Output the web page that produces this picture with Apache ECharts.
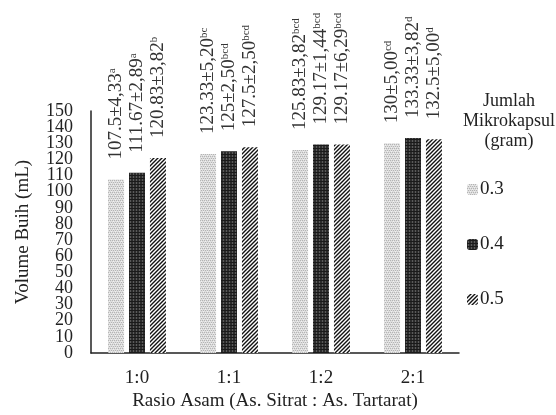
<!DOCTYPE html>
<html><head><meta charset="utf-8">
<script src="https://cdn.jsdelivr.net/npm/echarts@6/dist/echarts.min.js"></script>
<style>html,body{margin:0;padding:0;background:#fff}#c{width:556px;height:415px}</style>
</head><body><div id="c"></div>
<script>
const categories = ['1:0', '1:1', '1:2', '2:1'];
const seriesNames = ['0.3', '0.4', '0.5'];
const values03 = [107.5, 123.33, 125.83, 130];
const values04 = [111.67, 125, 129.17, 133.33];
const values05 = [120.83, 127.5, 129.17, 132.5];
const labels03 = ['107.5±4,33', '123.33±5,20', '125.83±3,82', '130±5,00'];
const labels04 = ['111.67±2,89', '125±2,50', '129.17±1,44', '133.33±3,82'];
const labels05 = ['120.83±3,82', '127.5±2,50', '129.17±6,29', '132.5±5,00'];
const sup03 = ['a', 'bc', 'bcd', 'cd'];
const sup04 = ['a', 'bcd', 'bcd', 'd'];
const sup05 = ['b', 'bcd', 'bcd', 'd'];
const yMin = 0, yMax = 150, yStep = 10;

function makePattern(kind) {
  const c = document.createElement('canvas');
  const ctx = c.getContext('2d');
  if (kind === 'dots') {
    c.width = 4; c.height = 4;
    ctx.fillStyle = '#dedede'; ctx.fillRect(0, 0, 4, 4);
    ctx.fillStyle = '#b4b4b4';
    ctx.fillRect(0, 0, 1, 1); ctx.fillRect(2, 0, 1, 1);
    ctx.fillRect(1, 2, 1, 1); ctx.fillRect(3, 2, 1, 1);
    ctx.fillStyle = '#f0f0f0'; ctx.fillRect(1, 1, 1, 1); ctx.fillRect(3, 3, 1, 1);
  } else if (kind === 'dark') {
    c.width = 3; c.height = 3;
    ctx.fillStyle = '#2c2c2c'; ctx.fillRect(0, 0, 3, 3);
    ctx.fillStyle = '#5a5a5a'; ctx.fillRect(1, 0, 1, 3);
    ctx.fillStyle = '#1a1a1a'; ctx.fillRect(0, 1, 3, 1);
  } else {
    c.width = 4; c.height = 4;
    ctx.fillStyle = '#fff'; ctx.fillRect(0, 0, 4, 4);
    ctx.strokeStyle = '#111'; ctx.lineWidth = 1.4;
    ctx.beginPath();
    ctx.moveTo(-1, 5); ctx.lineTo(5, -1);
    ctx.moveTo(-1, 1); ctx.lineTo(1, -1);
    ctx.moveTo(3, 5); ctx.lineTo(5, 3);
    ctx.stroke();
  }
  return { image: c, repeat: 'repeat' };
}
const fills = [makePattern('dots'), makePattern('dark'), makePattern('hatch')];
const FONT = '"Liberation Serif", "DejaVu Serif", serif';

function mkSeries(name, vals, labs, sups, fill) {
  return {
    name: name, type: 'bar', barWidth: 16, barGap: '31%', yAxisIndex: 0,
    itemStyle: { color: fill },
    data: vals.map((v, i) => ({
      value: v,
      label: { formatter: '{m|' + labs[i] + '}{s|' + sups[i] + '}' }
    })),
    label: {
      show: true, position: 'top', rotate: 90, align: 'left', verticalAlign: 'middle',
      distance: 20, color: '#333', fontFamily: FONT,
      rich: {
        m: { fontSize: 19, fontFamily: FONT, color: '#333', lineHeight: 19, verticalAlign: 'bottom' },
        s: { fontSize: 11, fontFamily: FONT, color: '#333', lineHeight: 19, verticalAlign: 'top' }
      }
    }
  };
}

const yLabelStyle = { fontFamily: FONT, fontSize: 18, color: '#222', margin: 18 };

const chart = echarts.init(document.getElementById('c'), null, { renderer: 'canvas' });
chart.setOption({
  animation: false,
  backgroundColor: '#fff',
  textStyle: { fontFamily: FONT },
  title: {
    text: 'Jumlah\nMikrokapsul\n(gram)', left: 504, top: 86, textAlign: 'center',
    textStyle: { fontFamily: FONT, fontSize: 18, fontWeight: 'normal', color: '#222', lineHeight: 20 }
  },
  legend: {
    orient: 'vertical', left: 462, top: 175, itemWidth: 11, itemHeight: 11, itemGap: 36,
    data: seriesNames,
    textStyle: { fontFamily: FONT, fontSize: 19, color: '#222', padding: [0, 0, 0, -3] }
  },
  grid: { left: 91, right: 97, top: 111, bottom: 62, containLabel: false, outerBoundsMode: 'none' },
  xAxis: {
    type: 'category', data: categories,
    axisLine: { lineStyle: { color: '#222', width: 1.5 } },
    axisTick: { show: false },
    axisLabel: { fontFamily: FONT, fontSize: 19, color: '#222', margin: 16 },
    name: 'Rasio Asam (As. Sitrat : As. Tartarat)', nameLocation: 'middle', nameGap: 39,
    nameMoveOverlap: false,
    nameTextStyle: { fontFamily: FONT, fontSize: 19, color: '#222' }
  },
  yAxis: [{
    type: 'value', min: yMin, max: yMax, interval: yStep, position: 'left',
    axisLine: { show: true, lineStyle: { color: '#222', width: 1.5 } },
    axisTick: { show: false },
    splitLine: { show: false },
    axisLabel: Object.assign({}, yLabelStyle, {
      showMinLabel: true, showMaxLabel: true,
      formatter: v => (v === yMin + yStep || v === yMax - yStep) ? '' : String(v)
    }),
    name: 'Volume Buih (mL)', nameLocation: 'middle', nameGap: 58,
    nameMoveOverlap: false,
    nameTextStyle: { fontFamily: FONT, fontSize: 19, color: '#222' }
  }, {
    type: 'value', min: yMin, max: yMax, interval: yStep, position: 'left', offset: 0,
    axisLine: { show: false },
    axisTick: { show: false },
    splitLine: { show: false },
    axisLabel: Object.assign({}, yLabelStyle, {
      formatter: v => (v === yMin + yStep || v === yMax - yStep) ? String(v) : ''
    })
  }],
  series: [
    mkSeries(seriesNames[0], values03, labels03, sup03, fills[0]),
    mkSeries(seriesNames[1], values04, labels04, sup04, fills[1]),
    mkSeries(seriesNames[2], values05, labels05, sup05, fills[2])
  ]
});
</script></body></html>
